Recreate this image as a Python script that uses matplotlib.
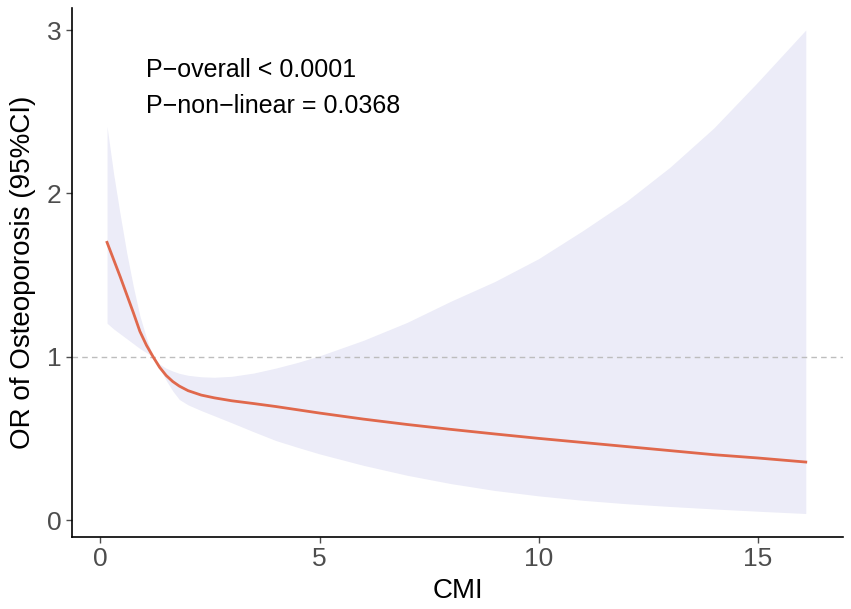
import matplotlib
matplotlib.use("Agg")
import matplotlib.pyplot as plt

plt.rcParams['font.family'] = ['Liberation Sans', 'DejaVu Sans']

cmi = [0.15, 0.3, 0.45, 0.6, 0.75, 0.9, 1.05, 1.2, 1.35, 1.5, 1.65, 1.8, 2.0, 2.3, 2.6, 3.0, 3.5,
       4.0, 4.5, 5.0, 6, 7, 8, 9, 10, 11, 12, 13, 14, 15, 16.1]
or_est = [1.70, 1.595, 1.49, 1.38, 1.27, 1.155, 1.07, 1.00, 0.935, 0.885, 0.848, 0.82, 0.792, 0.765,
          0.748, 0.73, 0.713, 0.695, 0.675, 0.655, 0.618, 0.585, 0.555, 0.527, 0.50, 0.475, 0.45, 0.425,
          0.40, 0.38, 0.355]
ci_lower = [1.205, 1.17, 1.14, 1.11, 1.08, 1.05, 1.025, 1.00, 0.93, 0.855, 0.79, 0.738, 0.705, 0.67,
            0.638, 0.595, 0.54, 0.487, 0.445, 0.405, 0.335, 0.274, 0.223, 0.181, 0.148, 0.121, 0.10,
            0.083, 0.068, 0.054, 0.04]
ci_upper = [2.41, 2.12, 1.87, 1.635, 1.43, 1.25, 1.115, 1.00, 0.955, 0.929, 0.912, 0.898, 0.886, 0.877,
            0.874, 0.88, 0.90, 0.93, 0.965, 1.005, 1.10, 1.21, 1.34, 1.46, 1.60, 1.77, 1.95, 2.16,
            2.40, 2.68, 3.00]
x_ticks = [0, 5, 10, 15]
y_ticks = [0, 1, 2, 3]
annot = ["P\u2212overall < 0.0001", "P\u2212non\u2212linear = 0.0368"]

fig = plt.figure(figsize=(8.51, 6.09), dpi=100)
ax = fig.add_axes([0.0846, 0.1182, 0.906, 0.8687])

ax.fill_between(cmi, ci_lower, ci_upper, color="#ECECF8", linewidth=0)
ax.axhline(1, color="#BDBDBD", linestyle=(0, (4, 3)), linewidth=1.0)
ax.plot(cmi, or_est, color="#E0684C", linewidth=2.0, solid_joinstyle='round')

ax.set_xlim(-0.65, 16.95)
ax.set_ylim(-0.104, 3.135)
ax.set_xticks(x_ticks)
ax.set_yticks(y_ticks)
ax.tick_params(axis='both', labelsize=19, labelcolor="#4D4D4D", color="#4D4D4D", length=4, width=1)
for s in ['top', 'right']:
    ax.spines[s].set_visible(False)
for s in ['left', 'bottom']:
    ax.spines[s].set_linewidth(1.2)
    ax.spines[s].set_color('black')

ax.set_xlabel("CMI", fontsize=20, color="black", labelpad=5)
ax.set_ylabel("OR of Osteoporosis (95%CI)", fontsize=20, color="black", labelpad=8)

ax.text(1.05, 2.71, annot[0], fontsize=18, color="black")
ax.text(1.05, 2.49, annot[1], fontsize=18, color="black")

fig.savefig("out.png", dpi=100)
